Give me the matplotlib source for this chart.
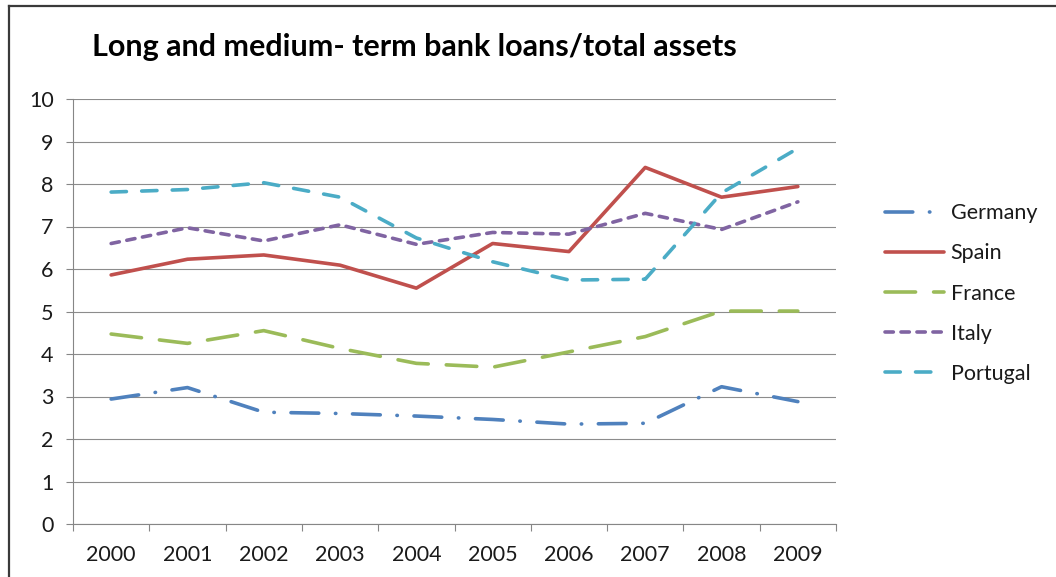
import matplotlib
matplotlib.use('Agg')
import matplotlib.pyplot as plt
from matplotlib.lines import Line2D

plt.rcParams['font.family'] = ['Lato', 'DejaVu Sans']
plt.rcParams['lines.scale_dashes'] = False

years = ['2000', '2001', '2002', '2003', '2004', '2005', '2006', '2007', '2008', '2009']
germany = [2.94, 3.21, 2.63, 2.60, 2.54, 2.46, 2.35, 2.37, 3.23, 2.88]
spain = [5.86, 6.23, 6.33, 6.09, 5.55, 6.60, 6.41, 8.39, 7.69, 7.94]
france = [4.47, 4.25, 4.55, 4.13, 3.78, 3.69, 4.05, 4.41, 5.01, 5.01]
italy = [6.60, 6.97, 6.66, 7.04, 6.58, 6.86, 6.82, 7.31, 6.93, 7.58]
portugal = [7.81, 7.87, 8.03, 7.69, 6.73, 6.17, 5.74, 5.76, 7.79, 8.84]

W, H = 1056, 577
fig = plt.figure(figsize=(W / 100, H / 100), dpi=100)
fig.patch.set_facecolor('white')

# plot area in pixels: x 73..836, y 99..524
ax = fig.add_axes([73 / W, 1 - 524 / H, (836 - 73) / W, (524 - 99) / H])

x = list(range(len(years)))
lw = 2.6
ax.plot(x, germany, color='#4F81BD', lw=lw, dashes=(20, 12, 0.3, 12),
        dash_capstyle='round', solid_capstyle='round', label='Germany')
ax.plot(x, spain, color='#C0504D', lw=lw, solid_capstyle='round', label='Spain')
ax.plot(x, france, color='#9BBB59', lw=lw, dashes=(22, 13),
        dash_capstyle='round', label='France')
ax.plot(x, italy, color='#8064A2', lw=lw, dashes=(6, 5.5),
        dash_capstyle='round', label='Italy')
ax.plot(x, portugal, color='#4BACC6', lw=lw, dashes=(11, 11),
        dash_capstyle='round', label='Portugal')

ax.set_xlim(-0.5, len(years) - 0.5)
ax.set_ylim(0, 10)
ax.set_yticks(range(0, 11))
ax.grid(axis='y', color='#8C8C8C', lw=0.8)
ax.set_axisbelow(True)

# category ticks between labels, labels at the centres
ax.set_xticks([i - 0.5 for i in range(len(years) + 1)])
ax.set_xticklabels([])
ax.set_xticks(x, minor=True)
ax.set_xticklabels(years, minor=True)
ax.tick_params(axis='x', which='major', direction='out', length=5, color='#868686', width=0.8)
ax.tick_params(axis='x', which='minor', length=0, pad=15, labelsize=15.5, labelcolor='#1a1a1a')
ax.tick_params(axis='y', direction='out', length=5, color='#868686', width=0.8,
               pad=9, labelsize=15.5, labelcolor='#1a1a1a')

for s in ['top', 'right']:
    ax.spines[s].set_visible(False)
for s in ['left', 'bottom']:
    ax.spines[s].set_color('#868686')
    ax.spines[s].set_linewidth(0.8)

fig.text(92 / W, 1 - 47 / H, 'Long and medium- term bank loans/total assets',
         fontsize=22, fontweight='bold', va='center', ha='left', color='black')

ax.legend(loc='center left', bbox_to_anchor=(885 / W, 1 - 293.5 / H),
          bbox_transform=fig.transFigure, frameon=False, fontsize=15.5,
          handlelength=2.75, handletextpad=0.3, labelspacing=0.93,
          borderpad=0, borderaxespad=0, labelcolor='#1a1a1a')

# chart frame (top and left edges visible)
fig.add_artist(Line2D([9 / W, 1], [1 - 6 / H, 1 - 6 / H], transform=fig.transFigure,
                      color='#3a3a3a', lw=1.6))
fig.add_artist(Line2D([9 / W, 9 / W], [0, 1 - 6 / H], transform=fig.transFigure,
                      color='#3a3a3a', lw=1.6))

fig.savefig('out.png', dpi=100)
